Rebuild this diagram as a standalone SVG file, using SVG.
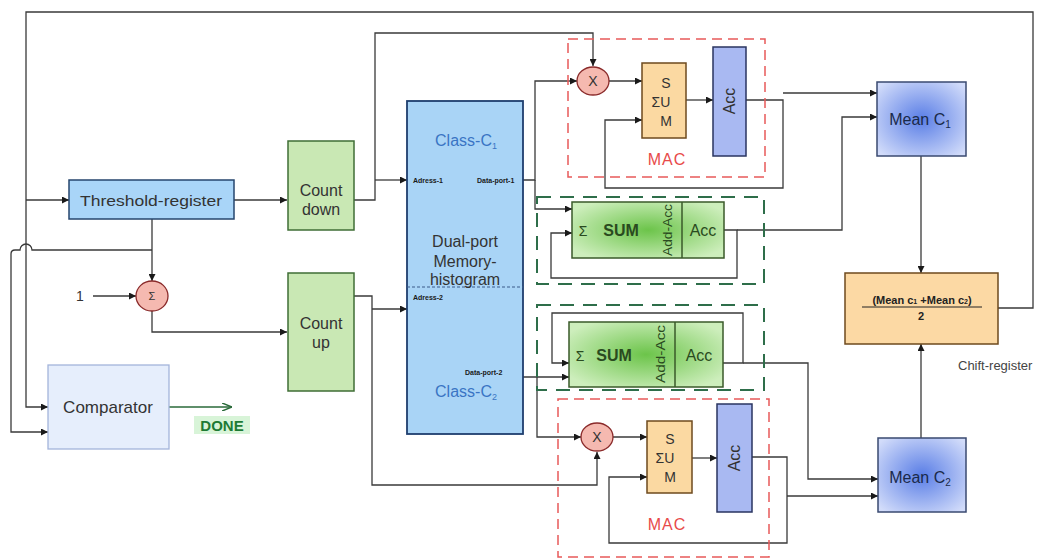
<svg xmlns="http://www.w3.org/2000/svg" width="1039" height="560" viewBox="0 0 1039 560">
<defs>
<marker id="a" viewBox="0 0 8 8" refX="8" refY="4" markerWidth="7" markerHeight="7" orient="auto" markerUnits="userSpaceOnUse"><path d="M0,0 L8,4 L0,8 z" fill="#1a1a1a"/></marker>
<marker id="g" viewBox="0 0 10 8" refX="10" refY="4" markerWidth="10" markerHeight="8" orient="auto" markerUnits="userSpaceOnUse"><path d="M0,0 L10,4 L0,8" fill="none" stroke="#2a6a3a" stroke-width="1.5"/></marker>
<radialGradient id="gs" cx="0.5" cy="0.5" r="0.6"><stop offset="0" stop-color="#6cc44a"/><stop offset="1" stop-color="#cdeebc"/></radialGradient>
<radialGradient id="gm" cx="0.5" cy="0.5" r="0.65"><stop offset="0" stop-color="#5a7ee6"/><stop offset="1" stop-color="#d2dcfa"/></radialGradient>
<style>
.t{font-family:"Liberation Sans",Arial,sans-serif;text-anchor:middle;fill:#333}
.w{fill:none;stroke:#3a3a3a;stroke-width:1.3}
.ar{marker-end:url(#a)}
.cnt{fill:#c9e8b4;stroke:#3f6e36;stroke-width:1.5}
.mul{fill:#f5b9b0;stroke:#8a2a2a;stroke-width:1.3}
.sumo{fill:#fbd9a2;stroke:#6e4a1e;stroke-width:1.5}
.acc{fill:#a9b9f2;stroke:#2a3560;stroke-width:1.5}
.mean{fill:url(#gm);stroke:#3a4a70;stroke-width:1.5}
.sumg{fill:url(#gs);stroke:#3a5a2a;stroke-width:1.5}
.rd{fill:none;stroke:#e85a5a;stroke-width:1.5;stroke-dasharray:10,6}
.gd{fill:none;stroke:#2e6e4a;stroke-width:2;stroke-dasharray:14,9}
.sm{font-family:"Liberation Sans",Arial,sans-serif;font-size:7px;fill:#1a1a1a;font-weight:bold}
.gt{fill:#2a4a20}
</style>
</defs>
<g id="connectors">
<path class="w" d="M998,308 H1033 V12 H26 V407 H48" marker-end="url(#a)" stroke="#505050" stroke-width="1.8"/>
<path class="w ar" d="M26,200 H69"/>
<path class="w ar" d="M234,200 H287"/>
<path class="w ar" d="M152,219 V281"/>
<path class="w ar" d="M152,250 H32 A6,6 0 0 0 20,250 H15 Q11,250 11,254 V432 H48"/>
<path class="w ar" d="M93,296 H136"/>
<path class="w ar" d="M152,311 V332 H287"/>
<path class="w ar" d="M354,200 H375 V33 H593 V66"/>
<path class="w ar" d="M375,180 H407"/>
<path class="w ar" d="M354,296 H372 V485 H597 V452"/>
<path class="w ar" d="M372,309 H407"/>
<path class="w ar" d="M523,180 H535 V81 H577"/>
<path class="w ar" d="M535,180 V209 H572"/>
<path class="w ar" d="M609,81 H642"/>
<path class="w ar" d="M686,100 H713"/>
<path class="w ar" d="M746,100 H783 V188 H605 V120 H642"/>
<path class="w ar" d="M783,93 H877"/>
<path class="w ar" d="M724,230 H737 V278 H551 V233 H572"/>
<path class="w ar" d="M737,230 H842 V117 H877"/>
<path class="w ar" d="M523,377 H569"/>
<path class="w ar" d="M537,377 V437 H581"/>
<path class="w ar" d="M723,363 H743 V313 H552 V363 H569"/>
<path class="w ar" d="M743,363 H808 V479 H878"/>
<path class="w ar" d="M613,437 H647"/>
<path class="w ar" d="M692,458 H717"/>
<path class="w ar" d="M752,457 H787 V543 H609 V477 H647"/>
<path class="w ar" d="M787,496 H878"/>
<path class="w ar" d="M921,156 V273"/>
<path class="w ar" d="M921,438 V344"/>
<path d="M169,407 H232" fill="none" stroke="#2a6a3a" stroke-width="1.5" marker-end="url(#g)"/>
</g>
<g id="mac1-frame"><rect class="rd" x="568" y="39" width="197" height="138"/><text class="t" x="667" y="165" font-size="16" letter-spacing="1" style="fill:#e84a4a">MAC</text></g>
<g id="mac2-frame"><rect class="rd" x="558" y="399" width="211" height="158"/><text class="t" x="667" y="530" font-size="16" letter-spacing="1" style="fill:#e84a4a">MAC</text></g>
<g id="acc-frame1"><rect class="gd" x="537" y="197" width="227" height="87"/></g>
<g id="acc-frame2"><rect class="gd" x="537" y="305" width="227" height="85"/></g>
<g id="threshold"><rect x="69" y="180" width="165" height="39" fill="#a9d5f8" stroke="#26456e" stroke-width="1.5"/><text class="t" x="151" y="206" font-size="15" textLength="142" lengthAdjust="spacingAndGlyphs">Threshold-register</text></g>
<g id="sigma"><ellipse class="mul" cx="152" cy="296" rx="16" ry="15"/><text class="t" x="152" y="300" font-size="11">Σ</text></g>
<g id="one"><text class="t" x="80" y="301" font-size="14">1</text></g>
<g id="comparator"><rect x="48" y="365" width="121" height="84" fill="#e6eefc" stroke="#a4b4da" stroke-width="1.3"/><text class="t" x="108" y="413" font-size="17">Comparator</text></g>
<g id="done"><rect x="194" y="416" width="56" height="18" fill="#d8f4d8"/><text class="t" x="222" y="431" font-size="15" font-weight="bold" style="fill:#1e7a34">DONE</text></g>
<g id="countdown"><rect class="cnt" x="288" y="141" width="66" height="89"/><text class="t" x="321" y="196" font-size="16">Count</text><text class="t" x="321" y="215" font-size="16">down</text></g>
<g id="countup"><rect class="cnt" x="288" y="273" width="66" height="118"/><text class="t" x="321" y="329" font-size="16">Count</text><text class="t" x="321" y="348" font-size="16">up</text></g>
<g id="memory">
<rect x="407" y="101" width="116" height="333" fill="#a9d4f6" stroke="#1e3e6e" stroke-width="1.8"/>
<line x1="407" y1="287" x2="523" y2="287" stroke="#3a5a8a" stroke-width="1" stroke-dasharray="3,2"/>
<text class="t" x="466" y="146" font-size="16" style="fill:#3a74c4">Class-C<tspan font-size="9" dy="3">1</tspan></text>
<text class="sm" x="413" y="183">Adress-1</text>
<text class="sm" x="477" y="183">Data-port-1</text>
<text class="t" x="465" y="247" font-size="16">Dual-port</text>
<text class="t" x="465" y="267" font-size="16">Memory-</text>
<text class="t" x="465" y="285" font-size="16">histogram</text>
<text class="sm" x="413" y="300">Adress-2</text>
<text class="sm" x="465" y="375">Data-port-2</text>
<text class="t" x="466" y="397" font-size="16" style="fill:#3a74c4">Class-C<tspan font-size="9" dy="3">2</tspan></text>
</g>
<g id="mult1"><ellipse class="mul" cx="593" cy="81" rx="16" ry="14"/><text class="t" x="593" y="86" font-size="14">X</text></g>
<g id="sum1"><rect class="sumo" x="642" y="63" width="44" height="75"/><text class="t" x="666" y="88" font-size="14">S</text><text class="t" x="661" y="107" font-size="14">ΣU</text><text class="t" x="666" y="126" font-size="14">M</text></g>
<g id="acc1"><rect class="acc" x="713" y="47" width="33" height="109"/><text class="t" transform="translate(735,101) rotate(-90)" font-size="16">Acc</text></g>
<g id="addacc1"><rect class="sumg" x="572" y="202" width="152" height="56"/><line x1="682" y1="202" x2="682" y2="258" stroke="#3a5a2a" stroke-width="1.5"/><text class="t gt" x="583" y="236" font-size="14">Σ</text><text class="t gt" x="621" y="236" font-size="16" font-weight="bold">SUM</text><text class="t gt" transform="translate(672,230) rotate(-90)" font-size="12" textLength="52" lengthAdjust="spacingAndGlyphs">Add-Acc</text><text class="t gt" x="703" y="236" font-size="16">Acc</text></g>
<g id="addacc2"><rect class="sumg" x="569" y="322" width="154" height="65"/><line x1="675" y1="322" x2="675" y2="387" stroke="#3a5a2a" stroke-width="1.5"/><text class="t gt" x="580" y="361" font-size="14">Σ</text><text class="t gt" x="614" y="361" font-size="16" font-weight="bold">SUM</text><text class="t gt" transform="translate(665,354) rotate(-90)" font-size="12" textLength="58" lengthAdjust="spacingAndGlyphs">Add-Acc</text><text class="t gt" x="699" y="361" font-size="16">Acc</text></g>
<g id="mult2"><ellipse class="mul" cx="597" cy="437" rx="16" ry="14"/><text class="t" x="597" y="442" font-size="14">X</text></g>
<g id="sum2"><rect class="sumo" x="647" y="421" width="45" height="72"/><text class="t" x="670" y="444" font-size="14">S</text><text class="t" x="665" y="463" font-size="14">ΣU</text><text class="t" x="670" y="482" font-size="14">M</text></g>
<g id="acc2"><rect class="acc" x="717" y="404" width="35" height="108"/><text class="t" transform="translate(740,458) rotate(-90)" font-size="16">Acc</text></g>
<g id="meanc1"><rect class="mean" x="877" y="82" width="89" height="74"/><text class="t" x="920" y="125" font-size="16" style="fill:#1a2a4a">Mean C<tspan font-size="10" dy="3">1</tspan></text></g>
<g id="meanc2"><rect class="mean" x="878" y="438" width="88" height="74"/><text class="t" x="920" y="483" font-size="16" style="fill:#1a2a4a">Mean C<tspan font-size="10" dy="3">2</tspan></text></g>
<g id="shiftreg"><rect x="845" y="273" width="153" height="71" fill="#fcd9a4" stroke="#6e4a1e" stroke-width="1.5"/><text class="t" x="922" y="304" font-size="11" font-weight="bold" style="fill:#222">(Mean c<tspan font-size="7">1</tspan> +Mean c<tspan font-size="7">2</tspan>)</text><line x1="862" y1="307" x2="982" y2="307" stroke="#222" stroke-width="1"/><text class="t" x="921" y="320" font-size="11" font-weight="bold" style="fill:#222">2</text></g>
<g id="chift"><text x="958" y="370" font-family="'Liberation Sans',Arial,sans-serif" font-size="13" fill="#444">Chift-register</text></g>
</svg>
